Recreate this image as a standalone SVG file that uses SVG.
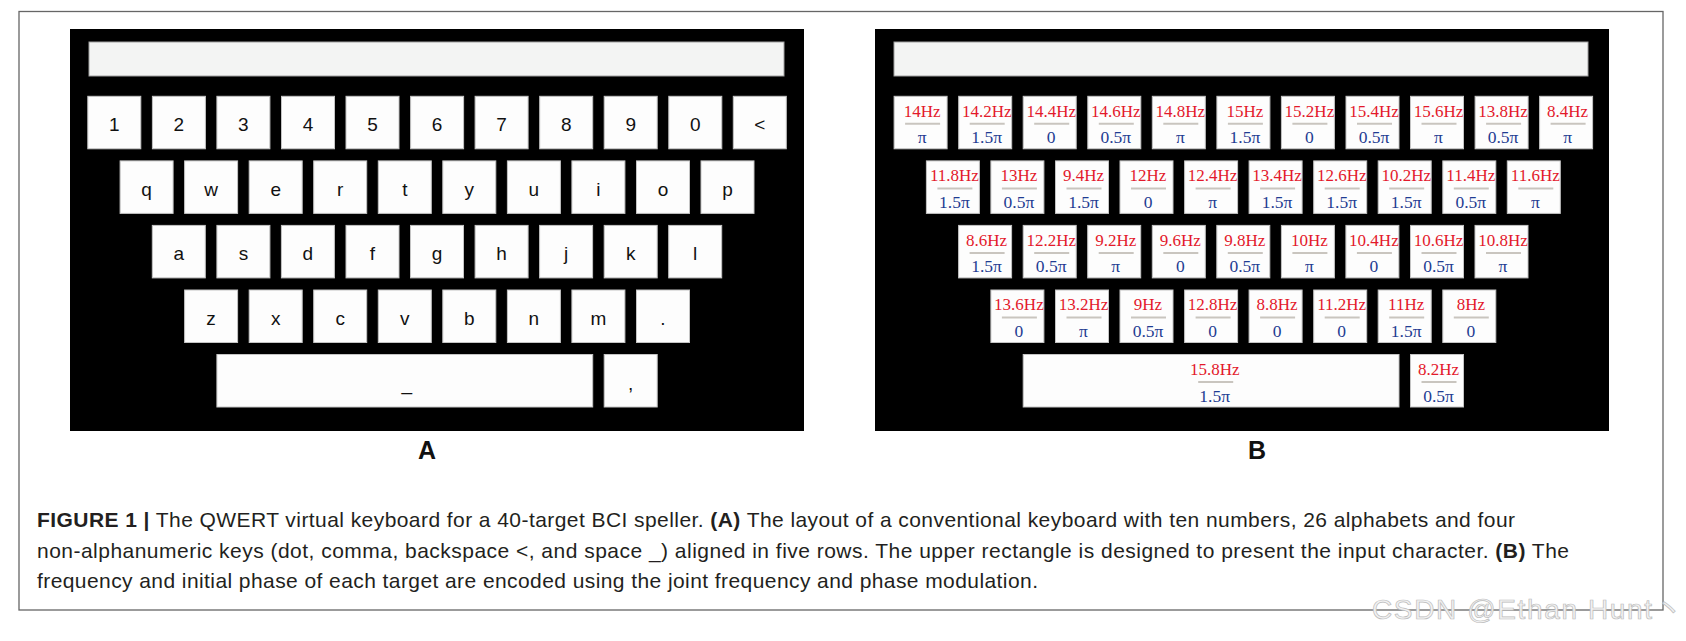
<svg xmlns="http://www.w3.org/2000/svg" width="1686" height="641" viewBox="0 0 1686 641">
<style>
.frame{fill:#fff;stroke:#666;stroke-width:1.3}
.panel{fill:#000}
.input{fill:#f3f4f3;stroke:#a0a0a0;stroke-width:1}
.key{fill:#fdfdfd;stroke:#c4c4c4;stroke-width:1}
.kt{font-family:"Liberation Sans",Arial,sans-serif;font-size:19px;fill:#111;text-anchor:middle}
.fq{font-family:"Liberation Serif","Times New Roman",serif;font-size:17px;fill:#e3192b;text-anchor:middle}
.ph{font-family:"Liberation Serif","Times New Roman",serif;font-size:17.5px;fill:#1f3c92;text-anchor:middle}
.sep{stroke:#c9c5bf;stroke-width:2}
.lbl{font-family:"Liberation Sans",Arial,sans-serif;font-size:25px;font-weight:bold;fill:#111;text-anchor:middle}
.cap{font-family:"Liberation Sans",Arial,sans-serif;font-size:21px;fill:#231f20}
.b{font-weight:bold}
.wm{font-family:"Liberation Sans",Arial,"Noto Sans CJK SC",sans-serif;font-size:28px;fill:#f2f2f2;stroke:#bcbcbc;stroke-width:0.7}
</style>
<defs>
<g id="k"><rect class="key" x="0" y="0" width="53" height="52.5"/></g>
<g id="s"><line class="sep" x1="11" y1="27.5" x2="46" y2="27.5"/></g>
</defs>
<rect class="frame" x="19" y="11.5" width="1644" height="598.5"/>

<g id="panelA">
<rect class="panel" x="70" y="29" width="734" height="402"/>
<rect class="input" x="89" y="42" width="695" height="34"/>
<g id="A-row1">
<g transform="translate(87.8,96.3)"><use href="#k"/><text class="kt" x="26.5" y="35">1</text></g>
<g transform="translate(152.4,96.3)"><use href="#k"/><text class="kt" x="26.5" y="35">2</text></g>
<g transform="translate(216.9,96.3)"><use href="#k"/><text class="kt" x="26.5" y="35">3</text></g>
<g transform="translate(281.5,96.3)"><use href="#k"/><text class="kt" x="26.5" y="35">4</text></g>
<g transform="translate(346.0,96.3)"><use href="#k"/><text class="kt" x="26.5" y="35">5</text></g>
<g transform="translate(410.6,96.3)"><use href="#k"/><text class="kt" x="26.5" y="35">6</text></g>
<g transform="translate(475.1,96.3)"><use href="#k"/><text class="kt" x="26.5" y="35">7</text></g>
<g transform="translate(539.7,96.3)"><use href="#k"/><text class="kt" x="26.5" y="35">8</text></g>
<g transform="translate(604.2,96.3)"><use href="#k"/><text class="kt" x="26.5" y="35">9</text></g>
<g transform="translate(668.8,96.3)"><use href="#k"/><text class="kt" x="26.5" y="35">0</text></g>
<g transform="translate(733.3,96.3)"><use href="#k"/><text class="kt" x="26.5" y="35">&lt;</text></g>
</g>
<g id="A-row2">
<g transform="translate(120.1,160.9)"><use href="#k"/><text class="kt" x="26.5" y="35">q</text></g>
<g transform="translate(184.6,160.9)"><use href="#k"/><text class="kt" x="26.5" y="35">w</text></g>
<g transform="translate(249.2,160.9)"><use href="#k"/><text class="kt" x="26.5" y="35">e</text></g>
<g transform="translate(313.7,160.9)"><use href="#k"/><text class="kt" x="26.5" y="35">r</text></g>
<g transform="translate(378.3,160.9)"><use href="#k"/><text class="kt" x="26.5" y="35">t</text></g>
<g transform="translate(442.8,160.9)"><use href="#k"/><text class="kt" x="26.5" y="35">y</text></g>
<g transform="translate(507.4,160.9)"><use href="#k"/><text class="kt" x="26.5" y="35">u</text></g>
<g transform="translate(571.9,160.9)"><use href="#k"/><text class="kt" x="26.5" y="35">i</text></g>
<g transform="translate(636.5,160.9)"><use href="#k"/><text class="kt" x="26.5" y="35">o</text></g>
<g transform="translate(701.0,160.9)"><use href="#k"/><text class="kt" x="26.5" y="35">p</text></g>
</g>
<g id="A-row3">
<g transform="translate(152.3,225.4)"><use href="#k"/><text class="kt" x="26.5" y="35">a</text></g>
<g transform="translate(216.9,225.4)"><use href="#k"/><text class="kt" x="26.5" y="35">s</text></g>
<g transform="translate(281.4,225.4)"><use href="#k"/><text class="kt" x="26.5" y="35">d</text></g>
<g transform="translate(346.0,225.4)"><use href="#k"/><text class="kt" x="26.5" y="35">f</text></g>
<g transform="translate(410.5,225.4)"><use href="#k"/><text class="kt" x="26.5" y="35">g</text></g>
<g transform="translate(475.1,225.4)"><use href="#k"/><text class="kt" x="26.5" y="35">h</text></g>
<g transform="translate(539.6,225.4)"><use href="#k"/><text class="kt" x="26.5" y="35">j</text></g>
<g transform="translate(604.2,225.4)"><use href="#k"/><text class="kt" x="26.5" y="35">k</text></g>
<g transform="translate(668.7,225.4)"><use href="#k"/><text class="kt" x="26.5" y="35">l</text></g>
</g>
<g id="A-row4">
<g transform="translate(184.6,290)"><use href="#k"/><text class="kt" x="26.5" y="35">z</text></g>
<g transform="translate(249.2,290)"><use href="#k"/><text class="kt" x="26.5" y="35">x</text></g>
<g transform="translate(313.7,290)"><use href="#k"/><text class="kt" x="26.5" y="35">c</text></g>
<g transform="translate(378.3,290)"><use href="#k"/><text class="kt" x="26.5" y="35">v</text></g>
<g transform="translate(442.8,290)"><use href="#k"/><text class="kt" x="26.5" y="35">b</text></g>
<g transform="translate(507.4,290)"><use href="#k"/><text class="kt" x="26.5" y="35">n</text></g>
<g transform="translate(571.9,290)"><use href="#k"/><text class="kt" x="26.5" y="35">m</text></g>
<g transform="translate(636.5,290)"><use href="#k"/><text class="kt" x="26.5" y="35">.</text></g>
</g>
<g id="A-row5">
<g transform="translate(216.9,354.5)"><rect class="key" x="0" y="0" width="375.8" height="52.5"/><text class="kt" x="190" y="35">_</text></g>
<g transform="translate(604.2,354.5)"><use href="#k"/><text class="kt" x="26.5" y="35">,</text></g>
</g>
</g>

<g id="panelB">
<rect class="panel" x="875" y="29" width="734" height="402"/>
<rect class="input" x="894" y="42" width="694" height="34"/>
<g id="B-row1">
<g transform="translate(894.1,96.3)"><use href="#k"/><text class="fq" x="28" y="20.4">14Hz</text><use href="#s"/><text class="ph" x="28" y="47">π</text></g>
<g transform="translate(958.7,96.3)"><use href="#k"/><text class="fq" x="28" y="20.4">14.2Hz</text><use href="#s"/><text class="ph" x="28" y="47">1.5π</text></g>
<g transform="translate(1023.2,96.3)"><use href="#k"/><text class="fq" x="28" y="20.4">14.4Hz</text><use href="#s"/><text class="ph" x="28" y="47">0</text></g>
<g transform="translate(1087.8,96.3)"><use href="#k"/><text class="fq" x="28" y="20.4">14.6Hz</text><use href="#s"/><text class="ph" x="28" y="47">0.5π</text></g>
<g transform="translate(1152.3,96.3)"><use href="#k"/><text class="fq" x="28" y="20.4">14.8Hz</text><use href="#s"/><text class="ph" x="28" y="47">π</text></g>
<g transform="translate(1216.9,96.3)"><use href="#k"/><text class="fq" x="28" y="20.4">15Hz</text><use href="#s"/><text class="ph" x="28" y="47">1.5π</text></g>
<g transform="translate(1281.4,96.3)"><use href="#k"/><text class="fq" x="28" y="20.4">15.2Hz</text><use href="#s"/><text class="ph" x="28" y="47">0</text></g>
<g transform="translate(1346.0,96.3)"><use href="#k"/><text class="fq" x="28" y="20.4">15.4Hz</text><use href="#s"/><text class="ph" x="28" y="47">0.5π</text></g>
<g transform="translate(1410.5,96.3)"><use href="#k"/><text class="fq" x="28" y="20.4">15.6Hz</text><use href="#s"/><text class="ph" x="28" y="47">π</text></g>
<g transform="translate(1475.1,96.3)"><use href="#k"/><text class="fq" x="28" y="20.4">13.8Hz</text><use href="#s"/><text class="ph" x="28" y="47">0.5π</text></g>
<g transform="translate(1539.6,96.3)"><use href="#k"/><text class="fq" x="28" y="20.4">8.4Hz</text><use href="#s"/><text class="ph" x="28" y="47">π</text></g>
</g>
<g id="B-row2">
<g transform="translate(926.4,160.9)"><use href="#k"/><text class="fq" x="28" y="20.4">11.8Hz</text><use href="#s"/><text class="ph" x="28" y="47">1.5π</text></g>
<g transform="translate(990.9,160.9)"><use href="#k"/><text class="fq" x="28" y="20.4">13Hz</text><use href="#s"/><text class="ph" x="28" y="47">0.5π</text></g>
<g transform="translate(1055.5,160.9)"><use href="#k"/><text class="fq" x="28" y="20.4">9.4Hz</text><use href="#s"/><text class="ph" x="28" y="47">1.5π</text></g>
<g transform="translate(1120.0,160.9)"><use href="#k"/><text class="fq" x="28" y="20.4">12Hz</text><use href="#s"/><text class="ph" x="28" y="47">0</text></g>
<g transform="translate(1184.6,160.9)"><use href="#k"/><text class="fq" x="28" y="20.4">12.4Hz</text><use href="#s"/><text class="ph" x="28" y="47">π</text></g>
<g transform="translate(1249.1,160.9)"><use href="#k"/><text class="fq" x="28" y="20.4">13.4Hz</text><use href="#s"/><text class="ph" x="28" y="47">1.5π</text></g>
<g transform="translate(1313.7,160.9)"><use href="#k"/><text class="fq" x="28" y="20.4">12.6Hz</text><use href="#s"/><text class="ph" x="28" y="47">1.5π</text></g>
<g transform="translate(1378.2,160.9)"><use href="#k"/><text class="fq" x="28" y="20.4">10.2Hz</text><use href="#s"/><text class="ph" x="28" y="47">1.5π</text></g>
<g transform="translate(1442.8,160.9)"><use href="#k"/><text class="fq" x="28" y="20.4">11.4Hz</text><use href="#s"/><text class="ph" x="28" y="47">0.5π</text></g>
<g transform="translate(1507.3,160.9)"><use href="#k"/><text class="fq" x="28" y="20.4">11.6Hz</text><use href="#s"/><text class="ph" x="28" y="47">π</text></g>
</g>
<g id="B-row3">
<g transform="translate(958.6,225.4)"><use href="#k"/><text class="fq" x="28" y="20.4">8.6Hz</text><use href="#s"/><text class="ph" x="28" y="47">1.5π</text></g>
<g transform="translate(1023.2,225.4)"><use href="#k"/><text class="fq" x="28" y="20.4">12.2Hz</text><use href="#s"/><text class="ph" x="28" y="47">0.5π</text></g>
<g transform="translate(1087.7,225.4)"><use href="#k"/><text class="fq" x="28" y="20.4">9.2Hz</text><use href="#s"/><text class="ph" x="28" y="47">π</text></g>
<g transform="translate(1152.3,225.4)"><use href="#k"/><text class="fq" x="28" y="20.4">9.6Hz</text><use href="#s"/><text class="ph" x="28" y="47">0</text></g>
<g transform="translate(1216.8,225.4)"><use href="#k"/><text class="fq" x="28" y="20.4">9.8Hz</text><use href="#s"/><text class="ph" x="28" y="47">0.5π</text></g>
<g transform="translate(1281.4,225.4)"><use href="#k"/><text class="fq" x="28" y="20.4">10Hz</text><use href="#s"/><text class="ph" x="28" y="47">π</text></g>
<g transform="translate(1345.9,225.4)"><use href="#k"/><text class="fq" x="28" y="20.4">10.4Hz</text><use href="#s"/><text class="ph" x="28" y="47">0</text></g>
<g transform="translate(1410.5,225.4)"><use href="#k"/><text class="fq" x="28" y="20.4">10.6Hz</text><use href="#s"/><text class="ph" x="28" y="47">0.5π</text></g>
<g transform="translate(1475.0,225.4)"><use href="#k"/><text class="fq" x="28" y="20.4">10.8Hz</text><use href="#s"/><text class="ph" x="28" y="47">π</text></g>
</g>
<g id="B-row4">
<g transform="translate(990.9,290)"><use href="#k"/><text class="fq" x="28" y="20.4">13.6Hz</text><use href="#s"/><text class="ph" x="28" y="47">0</text></g>
<g transform="translate(1055.5,290)"><use href="#k"/><text class="fq" x="28" y="20.4">13.2Hz</text><use href="#s"/><text class="ph" x="28" y="47">π</text></g>
<g transform="translate(1120.0,290)"><use href="#k"/><text class="fq" x="28" y="20.4">9Hz</text><use href="#s"/><text class="ph" x="28" y="47">0.5π</text></g>
<g transform="translate(1184.6,290)"><use href="#k"/><text class="fq" x="28" y="20.4">12.8Hz</text><use href="#s"/><text class="ph" x="28" y="47">0</text></g>
<g transform="translate(1249.1,290)"><use href="#k"/><text class="fq" x="28" y="20.4">8.8Hz</text><use href="#s"/><text class="ph" x="28" y="47">0</text></g>
<g transform="translate(1313.7,290)"><use href="#k"/><text class="fq" x="28" y="20.4">11.2Hz</text><use href="#s"/><text class="ph" x="28" y="47">0</text></g>
<g transform="translate(1378.2,290)"><use href="#k"/><text class="fq" x="28" y="20.4">11Hz</text><use href="#s"/><text class="ph" x="28" y="47">1.5π</text></g>
<g transform="translate(1442.8,290)"><use href="#k"/><text class="fq" x="28" y="20.4">8Hz</text><use href="#s"/><text class="ph" x="28" y="47">0</text></g>
</g>
<g id="B-row5">
<g transform="translate(1023.2,354.5)"><rect class="key" x="0" y="0" width="375.8" height="52.5"/><text class="fq" x="191.5" y="20.4">15.8Hz</text><line class="sep" x1="175" y1="27.5" x2="210" y2="27.5"/><text class="ph" x="191.5" y="47">1.5π</text></g>
<g transform="translate(1410.5,354.5)"><use href="#k"/><text class="fq" x="28" y="20.4">8.2Hz</text><use href="#s"/><text class="ph" x="28" y="47">0.5π</text></g>
</g>
</g>

<text class="lbl" x="427" y="459">A</text>
<text class="lbl" x="1257" y="459">B</text>

<g id="caption">
<text class="cap" x="37" y="527" textLength="1478"><tspan class="b">FIGURE 1 |</tspan> The QWERT virtual keyboard for a 40-target BCI speller. <tspan class="b">(A)</tspan> The layout of a conventional keyboard with ten numbers, 26 alphabets and four</text>
<text class="cap" x="37" y="557.5" textLength="1532">non-alphanumeric keys (dot, comma, backspace &lt;, and space _) aligned in five rows. The upper rectangle is designed to present the input character. <tspan class="b">(B)</tspan> The</text>
<text class="cap" x="37" y="588" textLength="1001">frequency and initial phase of each target are encoded using the joint frequency and phase modulation.</text>
</g>
<text class="wm" x="1372" y="619" textLength="280">CSDN @Ethan Hunt</text><text class="wm" x="1655" y="619">丶</text>
</svg>
